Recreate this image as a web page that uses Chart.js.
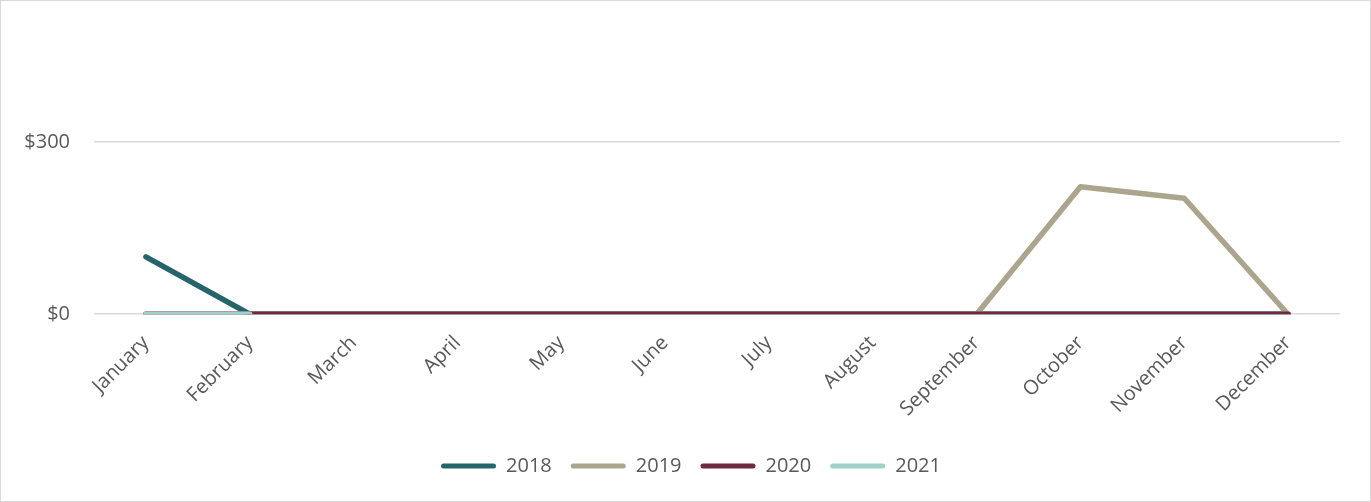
<!DOCTYPE html>
<html>
<head>
<meta charset="utf-8">
<script src="https://cdn.jsdelivr.net/npm/chart.js@4"></script>
<style>
  html, body { margin: 0; padding: 0; background: #fff; }
  #wrap { position: relative; width: 1369px; height: 500px; border: 1px solid #d9d9d9; }
</style>
</head>
<body>
<div id="wrap"><canvas id="myChart"></canvas></div>
<script>
var months = ["January", "February", "March", "April", "May", "June", "July", "August", "September", "October", "November", "December"];
var values2018 = [100, 0, 0, 0, 0, 0, 0, 0, 0, 0, 0, 0];
var values2019 = [0, 0, 0, 0, 0, 0, 0, 0, 0, 222, 202, 0];
var values2020 = [0, 0, 0, 0, 0, 0, 0, 0, 0, 0, 0, 0];
var values2021 = [0, 0, null, null, null, null, null, null, null, null, null, null];
var yTicks = [0, 300];

function line(label, values, color, order) {
  return {
    label: label,
    data: values,
    borderColor: color,
    backgroundColor: color,
    borderWidth: 5.5,
    pointRadius: 0,
    borderCapStyle: "round",
    borderJoinStyle: "round",
    tension: 0,
    order: order,
  };
}

var data = {
  labels: months,
  datasets: [
    line("2018", values2018, "#24656b", 3),
    line("2019", values2019, "#aca58d", 2),
    line("2020", values2020, "#6e2a3f", 1),
    line("2021", values2021, "#9fd0c9", 0),
  ],
};

var font = { family: "'Open Sans', sans-serif", size: 20 };

// nudge the legend a little to the right, like the original
var legendShift = {
  id: "legendShift",
  afterLayout: function (chart) {
    chart.legend.left += 15;
    chart.legend.right += 15;
  },
};

var config = {
  type: "line",
  data,
  plugins: [legendShift],
  options: {
    responsive: true,
    maintainAspectRatio: false,
    animation: false,
    layout: { padding: { top: 141, left: 11, right: 30, bottom: 15 } },
    scales: {
      x: {
        offset: true,
        afterFit: function (scale) {
          scale.height += 7;
        },
        grid: { display: false },
        border: { display: false },
        ticks: { color: "#595959", font: font, minRotation: 45, maxRotation: 45, padding: 9 },
      },
      y: {
        min: 0,
        max: 300,
        afterBuildTicks: function (scale) {
          scale.ticks = yTicks.map(function (v) { return { value: v }; });
        },
        afterFit: function (scale) {
          scale.width = 82;
        },
        grid: { color: "#d9d9d9", lineWidth: 1.5, drawTicks: false },
        border: { display: false },
        ticks: {
          color: "#595959",
          font: font,
          padding: 24,
          callback: function (v) { return "$" + v; },
        },
      },
    },
    plugins: {
      legend: {
        position: "bottom",
        labels: {
          color: "#595959",
          font: font,
          boxWidth: 55,
          boxHeight: 5,
          padding: 19,
          useBorderRadius: true,
          borderRadius: 2.5,
          generateLabels: function (chart) {
            var items = Chart.defaults.plugins.legend.labels.generateLabels(chart);
            items.forEach(function (it) {
              it.lineWidth = 0;
              it.strokeStyle = "rgba(0,0,0,0)";
            });
            return items;
          },
          sort: function (a, b) { return a.datasetIndex - b.datasetIndex; },
        },
      },
      title: { display: false },
      tooltip: { enabled: false },
    },
  },
};

var myChart = document.getElementById("myChart").getContext("2d");
var chart1 = new Chart(myChart, config);
</script>
</body>
</html>
